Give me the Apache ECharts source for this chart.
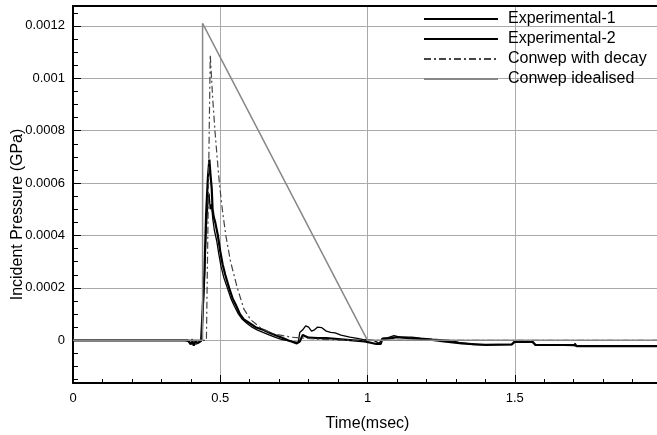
<!DOCTYPE html>
<html>
<head>
<meta charset="utf-8">
<script src="https://cdn.jsdelivr.net/npm/echarts@6.0.0/dist/echarts.min.js"></script>
<style>
html, body { margin: 0; padding: 0; background: #fff; }
#main { width: 657px; height: 435px; }
</style>
</head>
<body>
<div id="main"></div>
<script>
// values (time in msec, pressure in GPa)
const idealT = [0, 0.44, 0.44, 1.0, 2.0];
const idealP = [0, 0, 0.00121, 0, 0];

const decayT = [0, 0.453, 0.466, 0.474, 0.482, 0.49, 0.497, 0.508, 0.519, 0.535, 0.558, 0.58, 0.603, 0.64, 0.68, 0.74, 0.82, 0.9, 1.0, 2.0];
const decayP = [0, 0, 0.00109, 0.00093, 0.0008, 0.00069, 0.0006, 0.00049, 0.0004, 0.0003, 0.0002, 0.00012, 0.000079, 0.000045, 0.000025, 0.000012, 0.000005, 0.000001, 0, 0];

const exp1T = [0, 0.38, 0.395, 0.4, 0.405, 0.41, 0.415, 0.42, 0.43, 0.438,
  0.445, 0.452, 0.458, 0.462, 0.466, 0.47, 0.475, 0.48,
  0.488, 0.495, 0.503, 0.512, 0.524, 0.536, 0.548, 0.562, 0.575, 0.59,
  0.608, 0.625, 0.645, 0.668, 0.69, 0.71, 0.725, 0.745, 0.765,
  0.77, 0.78, 0.79, 0.8, 0.81, 0.82, 0.83, 0.845, 0.86, 0.875, 0.89, 0.91, 0.94, 0.97, 0.99,
  1.02, 1.04, 1.05, 1.07, 1.09, 1.11, 1.15, 1.18, 1.22, 1.28, 1.31, 1.36, 1.49, 1.5, 1.56, 1.57, 1.7, 1.705, 1.71, 2.0];
const exp1P = [0, 0, -0.000005, -0.000012, 0.000004, -0.000015, -0.000008, -0.000014, -0.000004, 0,
  0.0002, 0.00042, 0.00052, 0.00056, 0.0005, 0.00052, 0.00046, 0.00042,
  0.00038, 0.00033, 0.00028, 0.00024, 0.0002, 0.00016, 0.00013, 0.0001, 0.00008, 0.000065,
  0.00005, 0.00004, 0.00003, 0.00002, 0.00001, 0.000003, 0, -0.000005, -0.000008,
  0.00003, 0.00004, 0.000055, 0.00005, 0.000035, 0.00004, 0.00005, 0.000048, 0.000035, 0.00003, 0.000028, 0.00002, 0.000012, 0.000006, 0.000002,
  0, -0.000012, 0.000008, 0.00001, 0.000018, 0.000012, 0.000012, 0.000008, 0.000004, 0, -0.000008, -0.000016, -0.000016, -0.000008, -0.000008, -0.000016, -0.00002, -0.000012, -0.00002, -0.000022];

const exp2T = [0, 0.39, 0.4, 0.405, 0.41, 0.415, 0.425, 0.435, 0.44, 0.446,
  0.452, 0.458, 0.463, 0.467, 0.471, 0.474, 0.478, 0.483, 0.492, 0.5,
  0.508, 0.517, 0.53, 0.542, 0.555, 0.567, 0.58, 0.6, 0.62, 0.645,
  0.665, 0.69, 0.71, 0.73, 0.76, 0.77, 0.78, 0.8,
  0.83, 0.86, 0.9, 0.95, 0.99, 1.03, 1.045, 1.05, 1.08, 1.1, 1.14, 1.2, 1.26, 1.32, 1.4, 1.49, 1.5, 1.56, 1.57, 1.7, 1.71, 2.0];
const exp2P = [0, 0, -0.000015, -0.000005, -0.00002, -0.000005, -0.00001, -0.000002, 0, 0.00025,
  0.00048, 0.00062, 0.00069, 0.00063, 0.00058, 0.0005, 0.00047, 0.00045, 0.0004, 0.00034,
  0.00029, 0.00025, 0.0002, 0.00016, 0.00013, 0.0001, 0.00008, 0.000065, 0.00005, 0.00004,
  0.00003, 0.000018, 0.00001, 0, -0.000012, -0.000005, 0.00002, 0.00001,
  0.000008, 0.000008, 0.000005, 0, -0.000004, -0.000014, -0.000014, 0.000004, 0.000008, 0.000012, 0.000008, 0.000004, -0.000004, -0.000012, -0.000018, -0.000016, -0.000004, -0.000004, -0.000018, -0.000018, -0.000022, -0.000022];

const yMajor = [0, 0.0002, 0.0004, 0.0006, 0.0008, 0.001, 0.0012];
const yMinor = [-0.00015, -0.0001, -0.00005, 0.00005, 0.0001, 0.00015, 0.00025, 0.0003, 0.00035, 0.00045, 0.0005, 0.00055, 0.00065, 0.0007, 0.00075, 0.00085, 0.0009, 0.00095, 0.00105, 0.0011, 0.00115, 0.00125];

const yMin = -0.000163;
const yMax = 0.001276;

const zip = (t, p) => t.map((v, i) => [v, p[i]]);

const font = 'Liberation Sans';
const chart = echarts.init(document.getElementById('main'));

chart.setOption({
  animation: false,
  backgroundColor: '#fff',
  textStyle: { fontFamily: font },
  grid: { left: 73, top: 6, right: -5, bottom: 52, outerBoundsMode: 'none', containLabel: false },
  legend: {
    left: 418,
    top: 6,
    orient: 'vertical',
    itemWidth: 74,
    itemHeight: 14,
    itemGap: 4,
    itemStyle: { opacity: 0 },
    textStyle: { fontSize: 16, color: '#000', fontFamily: font, lineHeight: 14, padding: [0, 0, 0, 5] },
    data: ['Experimental-1', 'Experimental-2', 'Conwep with decay', 'Conwep idealised']
  },
  xAxis: [
    {
      type: 'value',
      min: 0,
      max: 2,
      interval: 0.5,
      name: 'Time(msec)',
      nameLocation: 'middle',
      nameGap: 33,
      nameMoveOverlap: false,
      nameTextStyle: { fontSize: 16, color: '#000', fontFamily: font },
      axisLine: { onZero: false, lineStyle: { color: '#000', width: 2 } },
      axisTick: { inside: true, length: 8, lineStyle: { color: '#000', width: 1 } },
      minorTick: { show: true, splitNumber: 5, length: 4, lineStyle: { color: '#000', width: 1 } },
      axisLabel: { fontSize: 13, color: '#000', margin: 9, showMaxLabel: false },
      splitLine: { show: true, lineStyle: { color: '#aaaaaa', width: 1 } }
    },
    {
      type: 'value',
      position: 'top',
      min: 0,
      max: 2,
      axisLine: { show: true, onZero: false, lineStyle: { color: '#000', width: 2 } },
      axisTick: { show: false },
      axisLabel: { show: false },
      splitLine: { show: false }
    }
  ],
  yAxis: [
    {
      type: 'value',
      min: yMin,
      max: yMax,
      splitNumber: 7,
      name: 'Incident Pressure (GPa)',
      nameLocation: 'middle',
      nameGap: 47,
      nameMoveOverlap: false,
      nameTextStyle: { fontSize: 16, color: '#000', fontFamily: font, padding: [0, 40, 0, 0] },
      axisLine: { show: true, onZero: false, lineStyle: { color: '#000', width: 2 } },
      axisTick: { inside: true, length: 8, customValues: yMajor, lineStyle: { color: '#000', width: 1 } },
      axisLabel: {
        fontSize: 13,
        color: '#000',
        margin: 8,
        customValues: yMajor,
        formatter: (v) => String(+Number(v).toFixed(5))
      },
      splitLine: { show: true, lineStyle: { color: '#aaaaaa', width: 1 } }
    },
    {
      type: 'value',
      position: 'left',
      min: yMin,
      max: yMax,
      axisLine: { show: false },
      axisTick: { show: true, inside: true, length: 5, customValues: yMinor, lineStyle: { color: '#000', width: 1 } },
      axisLabel: { show: false },
      splitLine: { show: false }
    }
  ],
  series: [
    {
      name: 'Experimental-1',
      type: 'line',
      symbol: 'none',
      data: zip(exp1T, exp1P),
      lineStyle: { color: '#000', width: 1.3 },
      itemStyle: { color: '#000' }
    },
    {
      name: 'Experimental-2',
      type: 'line',
      symbol: 'none',
      data: zip(exp2T, exp2P),
      lineStyle: { color: '#000', width: 2.2 },
      itemStyle: { color: '#000' }
    },
    {
      name: 'Conwep with decay',
      type: 'line',
      symbol: 'none',
      data: zip(decayT, decayP),
      lineStyle: { color: '#444', width: 1.2, type: [7, 3, 2, 3] },
      itemStyle: { color: '#444' }
    },
    {
      name: 'Conwep idealised',
      type: 'line',
      symbol: 'none',
      data: zip(idealT, idealP),
      lineStyle: { color: '#888', width: 1.5 },
      itemStyle: { color: '#888' }
    }
  ]
});
</script>
</body>
</html>
